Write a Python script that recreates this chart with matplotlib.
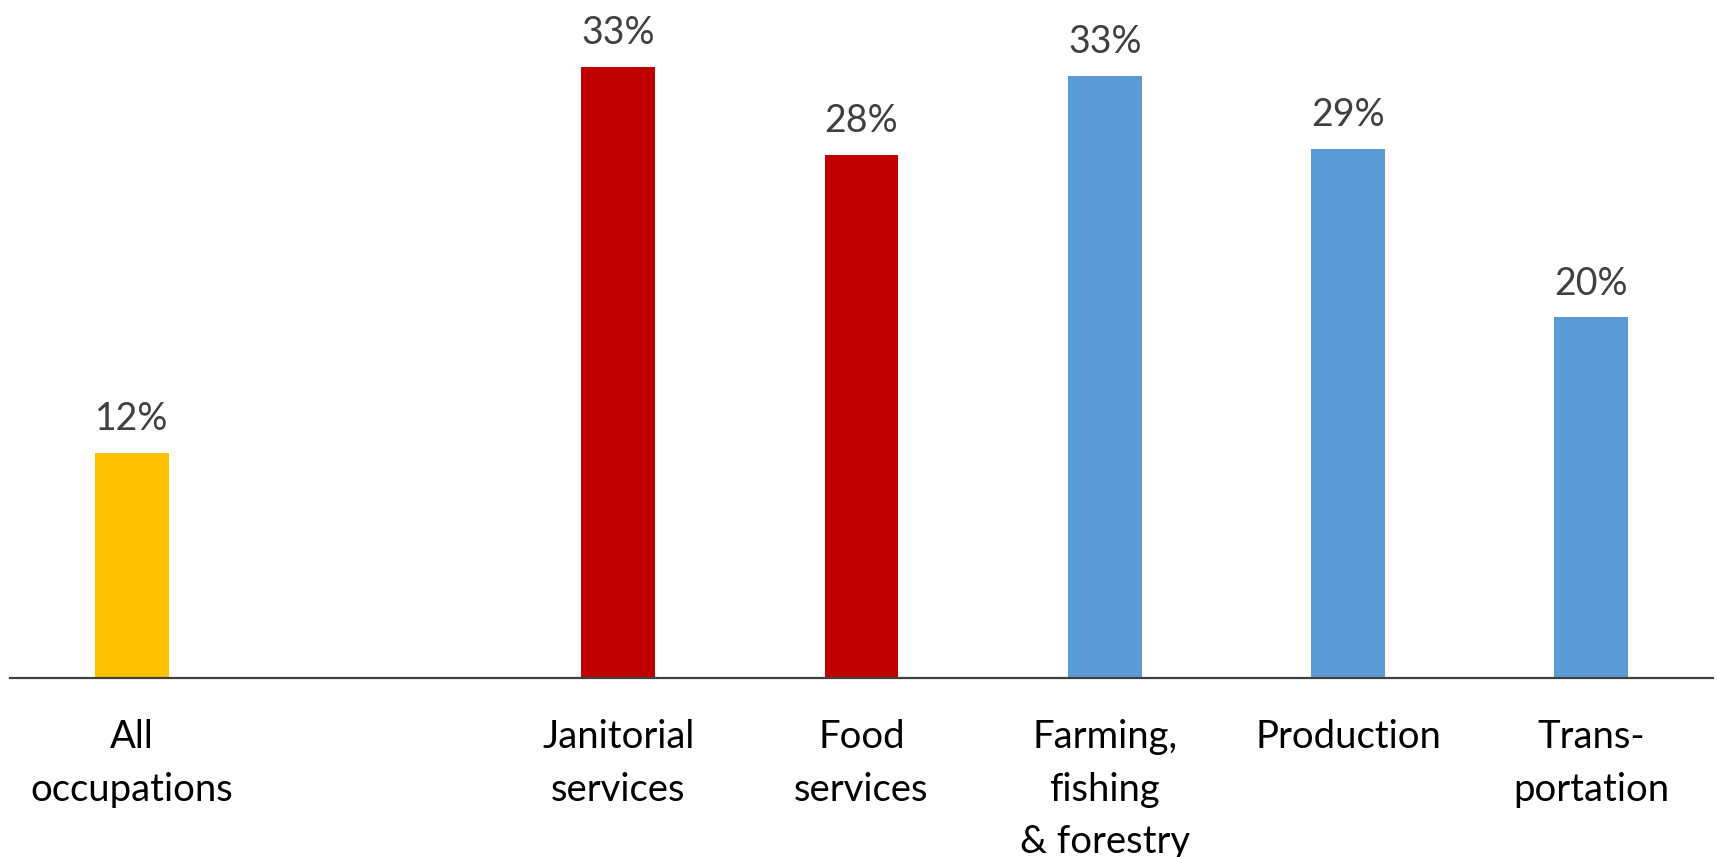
import matplotlib
matplotlib.use("Agg")
import matplotlib.pyplot as plt

categories = ["All\noccupations", "", "Janitorial\nservices", "Food\nservices",
              "Farming,\nfishing\n& forestry", "Production", "Trans-\nportation"]
values = [12.3, None, 33.4, 28.6, 32.9, 28.9, 19.7]
value_labels = ["12%", "", "33%", "28%", "33%", "29%", "20%"]
colors = ["#FFC000", "#FFFFFF", "#C00000", "#C00000", "#5B9BD5", "#5B9BD5", "#5B9BD5"]

plt.rcParams['font.family'] = ['Lato', 'DejaVu Sans']

W, H = 1717, 857
fig = plt.figure(figsize=(W / 100, H / 100), dpi=100)
ax = fig.add_axes([10 / W, 1 - 678 / H, (1713 - 10) / W, 678 / H])

xs = [i for i, v in enumerate(values) if v is not None]
hs = [values[i] for i in xs]
cs = [colors[i] for i in xs]
ax.bar(xs, hs, width=0.304, color=cs, zorder=2)

ax.set_xlim(-0.5, len(categories) - 0.5)
ax.set_ylim(0, 37.05)

for s in ["top", "left", "right"]:
    ax.spines[s].set_visible(False)
ax.spines["bottom"].set_color("#404040")
ax.spines["bottom"].set_linewidth(1.6)
ax.set_yticks([])
ax.set_xticks([])

for i in xs:
    ax.annotate(value_labels[i], xy=(i, values[i]), xytext=(0, 16.5),
                textcoords="offset points", ha="center", va="baseline",
                fontsize=27, color="#404040")

for i, lab in enumerate(categories):
    if lab:
        ax.annotate(lab, xy=(i, 0), xycoords=("data", "axes fraction"),
                    xytext=(0, -29.5), textcoords="offset points",
                    ha="center", va="top", fontsize=27.5, color="#000000",
                    linespacing=1.57, annotation_clip=False)

fig.savefig("out.png", dpi=100)
